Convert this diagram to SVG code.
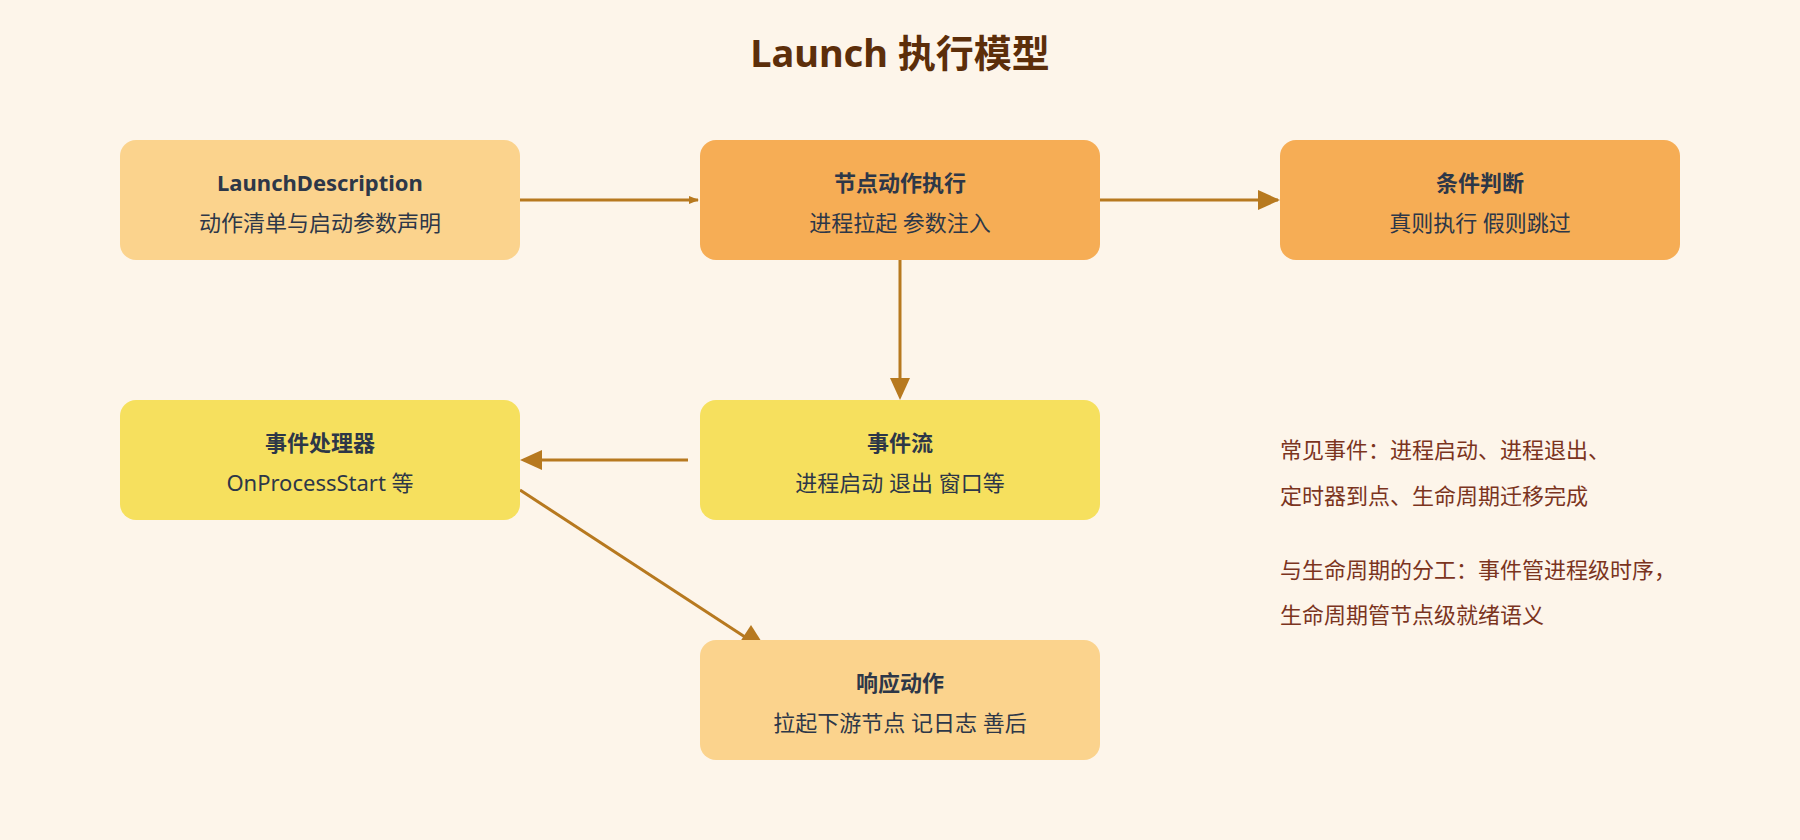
<svg xmlns="http://www.w3.org/2000/svg" width="1800" height="840" viewBox="0 0 1800 840">
<style>
.t{font-family:"Noto Sans","Noto Sans CJK SC",sans-serif;font-size:22px;fill:#2D3748;text-anchor:middle}
.b{font-weight:bold}
.side{font-family:"Noto Sans","Noto Sans CJK SC",sans-serif;font-size:22px;fill:#7B341E}
.c{stroke:#B7791F;stroke-width:3;fill:none}
</style>
<defs>
<marker id="a" markerWidth="10" markerHeight="8" refX="9" refY="4" orient="auto" markerUnits="userSpaceOnUse" viewBox="0 0 10 8"><path d="M0,0L10,4L0,8z" fill="#B7791F"/></marker>
<marker id="a2" markerWidth="36" markerHeight="30" refX="34" refY="15" orient="auto" markerUnits="userSpaceOnUse" viewBox="0 0 36 30"><path d="M0,0L36,15L0,30z" fill="#B7791F"/></marker>
</defs>
<rect width="1800" height="840" fill="#FDF5EA"/>
<text x="900" y="67" text-anchor="middle" font-family="Noto Sans,Noto Sans CJK SC,sans-serif" font-size="38" font-weight="bold" fill="#5C2E0A">Launch 执行模型</text>
<g id="connectors">
<line class="c" x1="520" y1="200" x2="698" y2="200" marker-end="url(#a)" style="stroke-width:3"/>
<path class="c" d="M1100,200H1278"/><path d="M1258,190L1280,200L1258,210z" fill="#B7791F"/>
<path class="c" d="M900,260V378"/><path d="M890,378L900,400L910,378z" fill="#B7791F"/>
<path class="c" d="M688,460H540"/><path d="M542,450L520,460L542,470z" fill="#B7791F"/>
<path class="c" d="M520,490L745,637"/><path d="M734,651L770,655L751,625z" fill="#B7791F"/>
</g>
<g id="n1"><rect x="120" y="140" width="400" height="120" rx="16" fill="#FBD38D"/><text class="t b" x="320" y="191">LaunchDescription</text><text class="t" x="320" y="231">动作清单与启动参数声明</text></g>
<g id="n2"><rect x="700" y="140" width="400" height="120" rx="16" fill="#F6AD55"/><text class="t b" x="900" y="191">节点动作执行</text><text class="t" x="900" y="231">进程拉起 参数注入</text></g>
<g id="n3"><rect x="1280" y="140" width="400" height="120" rx="16" fill="#F6AD55"/><text class="t b" x="1480" y="191">条件判断</text><text class="t" x="1480" y="231">真则执行 假则跳过</text></g>
<g id="n4"><rect x="120" y="400" width="400" height="120" rx="16" fill="#F6E05E"/><text class="t b" x="320" y="451">事件处理器</text><text class="t" x="320" y="491">OnProcessStart 等</text></g>
<g id="n5"><rect x="700" y="400" width="400" height="120" rx="16" fill="#F6E05E"/><text class="t b" x="900" y="451">事件流</text><text class="t" x="900" y="491">进程启动 退出 窗口等</text></g>
<g id="n6"><rect x="700" y="640" width="400" height="120" rx="16" fill="#FBD38D"/><text class="t b" x="900" y="691">响应动作</text><text class="t" x="900" y="731">拉起下游节点 记日志 善后</text></g>
<g id="notes">
<text class="side" x="1280" y="458">常见事件：进程启动、进程退出、</text>
<text class="side" x="1280" y="504">定时器到点、生命周期迁移完成</text>
<text class="side" x="1280" y="578">与生命周期的分工：事件管进程级时序，</text>
<text class="side" x="1280" y="623">生命周期管节点级就绪语义</text>
</g>
</svg>
